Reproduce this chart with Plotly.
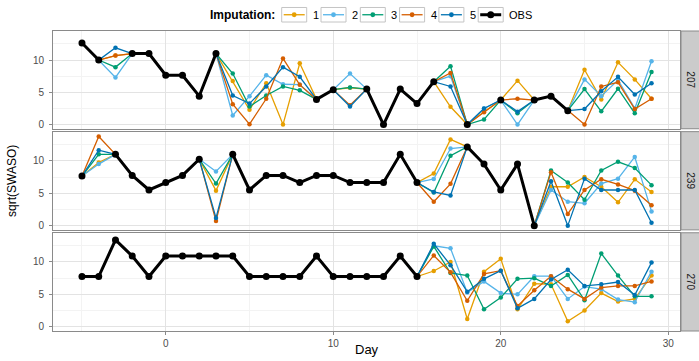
import plotly.graph_objects as go

N = None
days = list(range(-5, 30))
panels = ["207", "239", "270"]
imp_names = ["1", "2", "3", "4", "5"]
imp_colors = ["#E69F00", "#56B4E9", "#009E73", "#D55E00", "#0072B2"]
obs_color = "#000000"

# ---- panel 207 ----
obs_207 = [12.65, 10.0, N, 11.0, 11.0, 7.65, 7.65, 4.4, 11.0, N, N, N, N, N,
           3.9, 5.4, N, 5.5, 0.0, 5.5, 3.25, 6.65, N, 0.0, N, 3.8, N, 3.8,
           4.4, 2.15, N, N, N, N, N]
miss_207 = [-3, 4, 5, 6, 7, 8, 11, 17, 19, 21, 25, 26, 27, 28, 29]
imp_207_1 = [10.7, 6.75, 2.3, 6.4, 0.0, 9.5, 5.7, 2.75, 2.0, 6.8, 8.5, 3.9, 9.65, 7.0, 4.0]
imp_207_2 = [7.3, 1.4, 4.4, 7.65, 6.25, 6.2, 7.9, 7.5, 2.5, 0.0, 7.0, 4.4, 6.9, 2.5, 9.8]
imp_207_3 = [8.9, 7.9, 2.8, 4.5, 5.9, 5.3, 5.75, 9.05, 0.8, 1.75, 5.5, 2.05, 5.55, 1.75, 8.15]
imp_207_4 = [10.7, 3.15, 0.05, 4.0, 10.25, 6.15, 3.0, 8.0, 1.9, 4.0, 0.0, 5.9, 6.55, 2.4, 4.0]
imp_207_5 = [11.9, 4.5, 3.25, 5.9, 8.9, 7.4, 2.8, 5.9, 2.5, 2.0, 2.4, 5.15, 7.4, 4.65, 6.4]

# ---- panel 239 ----
obs_239 = [7.65, N, 11.0, 7.75, 5.5, 6.65, 7.75, 10.25, N, 11.0, 5.5, 7.75,
           7.75, 6.65, 7.75, 7.75, 6.65, 6.65, 6.65, 11.0, 6.65, N, N, 12.15,
           9.5, 5.5, 9.5, 0.0, N, N, N, N, N, N, N]
miss_239 = [-4, 3, 16, 17, 23, 24, 25, 26, 27, 28, 29]
imp_239_1 = [9.75, 5.4, 8.05, 13.3, 6.0, 6.0, 7.5, 6.0, 3.6, 7.15, 5.2]
imp_239_2 = [9.5, 8.35, 7.2, 11.9, 5.5, 3.7, 3.45, 6.5, 7.25, 10.6, 2.2]
imp_239_3 = [11.0, 6.5, 5.1, 10.8, 8.5, 6.65, 4.0, 8.5, 9.85, 8.9, 6.25]
imp_239_4 = [13.75, 0.7, 3.7, 6.45, 8.25, 1.8, 5.5, 7.15, 6.35, 5.4, 3.15]
imp_239_5 = [11.65, 1.2, 5.2, 4.67, 6.85, 0.0, 7.25, 5.5, 5.5, 5.5, 0.45]

# ---- panel 270 ----
obs_270 = [7.75, 7.75, 13.4, 10.9, 7.75, 10.9, 10.9, 10.9, 10.9, 10.9, 7.75,
           7.75, 7.75, 7.75, 10.9, 7.75, 7.75, 7.75, 7.75, 10.9, 7.75,
           N, N, N, N, N, N, N, N, N, N, N, N, N, N]
miss_270 = [16, 17, 18, 19, 20, 21, 22, 23, 24, 25, 26, 27, 28, 29]
imp_270_1 = [8.6, 10.0, 1.2, 8.5, 10.5, 2.7, 6.65, 6.55, 0.85, 2.5, 5.2, 3.9, 4.3, 7.9]
imp_270_2 = [12.5, 12.1, 5.3, 7.0, 5.2, 5.0, 7.8, 7.8, 4.3, 6.2, 5.8, 4.2, 3.8, 8.5]
imp_270_3 = [12.4, 8.3, 7.9, 2.7, 4.5, 7.4, 7.5, 6.3, 8.0, 4.1, 11.3, 7.9, 4.7, 4.7]
imp_270_4 = [11.0, 8.4, 4.0, 8.15, 8.65, 3.2, 5.65, 7.8, 5.8, 4.3, 6.05, 6.3, 6.3, 7.0]
imp_270_5 = [12.8, 9.5, 5.4, 7.4, 8.65, 2.85, 4.3, 7.3, 8.8, 6.3, 6.55, 6.9, 4.9, 9.9]

panel_data = [
    (obs_207, miss_207, [imp_207_1, imp_207_2, imp_207_3, imp_207_4, imp_207_5]),
    (obs_239, miss_239, [imp_239_1, imp_239_2, imp_239_3, imp_239_4, imp_239_5]),
    (obs_270, miss_270, [imp_270_1, imp_270_2, imp_270_3, imp_270_4, imp_270_5]),
]

# ---- layout geometry (pixels) ----
W, H = 699, 361
ML, MR, MT, MB = 53, 19, 31, 20
PW, PH = W - ML - MR, H - MT - MB
panel_px = [(31, 132), (135, 236.5), (239.5, 341)]  # top, bottom in px


def px2x(px):
    return (px - ML) / PW


def py2y(py):
    return (H - MB - py) / PH


fig = go.Figure()

for p, (obs, miss, imps) in enumerate(panel_data):
    xa = "x" if p == 0 else f"x{p+1}"
    ya = "y" if p == 0 else f"y{p+1}"
    for m, imp in enumerate(imps):
        full = list(obs)
        for d, v in zip(miss, imp):
            full[days.index(d)] = v
        fig.add_trace(go.Scatter(
            x=days, y=full, mode="lines+markers", xaxis=xa, yaxis=ya,
            name=imp_names[m], showlegend=False,
            line=dict(color=imp_colors[m], width=1.3),
            marker=dict(color=imp_colors[m], size=4.5),
        ))
    fig.add_trace(go.Scatter(
        x=days, y=obs, mode="lines+markers", xaxis=xa, yaxis=ya,
        name="OBS", showlegend=False,
        line=dict(color=obs_color, width=3),
        marker=dict(color=obs_color, size=7),
    ))

axis_common = dict(
    showgrid=True, gridcolor="#e3e3e3", gridwidth=1,
    zeroline=False, showline=True, mirror=True,
    linecolor="#8a8a8a", linewidth=1,
    tickfont=dict(family="Liberation Sans, Arial", size=10, color="#4d4d4d"),
    tickcolor="#8a8a8a", ticklen=3, tickwidth=1,
)

layout = dict(
    width=W, height=H, margin=dict(l=ML, r=MR, t=MT, b=MB),
    paper_bgcolor="white", plot_bgcolor="white",
    showlegend=False,
    font=dict(family="Liberation Sans, Arial", color="#000000"),
)

for p in range(3):
    top, bot = panel_px[p]
    xk = "xaxis" if p == 0 else f"xaxis{p+1}"
    yk = "yaxis" if p == 0 else f"yaxis{p+1}"
    xa = dict(axis_common)
    xa.update(
        domain=[0, 1], range=[-6.73, 30.7], tick0=0, dtick=10,
        anchor="y" if p == 0 else f"y{p+1}",
        minor=dict(dtick=5, tick0=0, showgrid=True, gridcolor="#f3f3f3", gridwidth=0.8),
    )
    if p < 2:
        xa.update(showticklabels=False, ticks="")
        xa["matches"] = "x3"
    else:
        xa.update(ticks="outside")
    ya = dict(axis_common)
    ya.update(
        domain=[py2y(bot), py2y(top)], range=[-0.65, 14.5],
        tickvals=[0, 5, 10], ticks="outside", ticklabelstandoff=3,
        anchor="x" if p == 0 else f"x{p+1}",
        minor=dict(tickvals=[2.5, 7.5, 12.5], showgrid=True, gridcolor="#f3f3f3", gridwidth=0.8),
    )
    layout[xk] = xa
    layout[yk] = ya

fig.update_layout(**layout)

shapes = []
annotations = []

# facet strips on the right
for p in range(3):
    yref = "y domain" if p == 0 else f"y{p+1} domain"
    shapes.append(dict(type="rect", xref="paper", yref=yref,
                       x0=px2x(681), x1=px2x(706), y0=0, y1=1,
                       fillcolor="#cbcbcb", line=dict(color="#8a8a8a", width=1),
                       layer="above"))
    annotations.append(dict(text=panels[p], xref="paper", yref=yref,
                            x=px2x(690.5), y=0.5, showarrow=False, textangle=90,
                            xanchor="center", yanchor="middle",
                            font=dict(size=10, color="#1a1a1a")))

# axis titles
annotations.append(dict(text="sqrt(SWASO)", xref="paper", yref="paper",
                        x=px2x(12), y=py2y(186), showarrow=False, textangle=-90,
                        xanchor="center", yanchor="middle", font=dict(size=12)))
annotations.append(dict(text="Day", xref="paper", yref="paper",
                        x=px2x(367), y=py2y(350), showarrow=False,
                        xanchor="center", yanchor="top", font=dict(size=13)))

# legend (drawn as keys)
leg_labels = imp_names + ["OBS"]
leg_colors = imp_colors + [obs_color]
annotations.append(dict(text="<b>Imputation:</b>", xref="paper", yref="paper",
                        x=px2x(277), y=py2y(14), showarrow=False,
                        xanchor="right", yanchor="middle", font=dict(size=12)))
for i, (lab, col) in enumerate(zip(leg_labels, leg_colors)):
    bl = 281.7 + 39.3 * i
    br = bl + 25
    cy = 14.2
    shapes.append(dict(type="rect", xref="paper", yref="paper",
                       x0=px2x(bl), x1=px2x(br), y0=py2y(21.7), y1=py2y(6.7),
                       fillcolor="white", line=dict(color="#c4c4c4", width=1)))
    is_obs = lab == "OBS"
    shapes.append(dict(type="line", xref="paper", yref="paper",
                       x0=px2x(bl + 2), x1=px2x(br - 2), y0=py2y(cy), y1=py2y(cy),
                       line=dict(color=col, width=3 if is_obs else 1.3)))
    r = 3.5 if is_obs else 2.4
    shapes.append(dict(type="circle", xref="paper", yref="paper",
                       xsizemode="pixel", ysizemode="pixel",
                       xanchor=px2x((bl + br) / 2), yanchor=py2y(cy),
                       x0=-r, x1=r, y0=-r, y1=r,
                       fillcolor=col, line=dict(color=col, width=0)))
    annotations.append(dict(text=lab, xref="paper", yref="paper",
                            x=px2x(br + 4), y=py2y(cy), showarrow=False,
                            xanchor="left", yanchor="middle",
                            font=dict(size=11)))

fig.update_layout(shapes=shapes, annotations=annotations)

fig.write_html("out.html")
